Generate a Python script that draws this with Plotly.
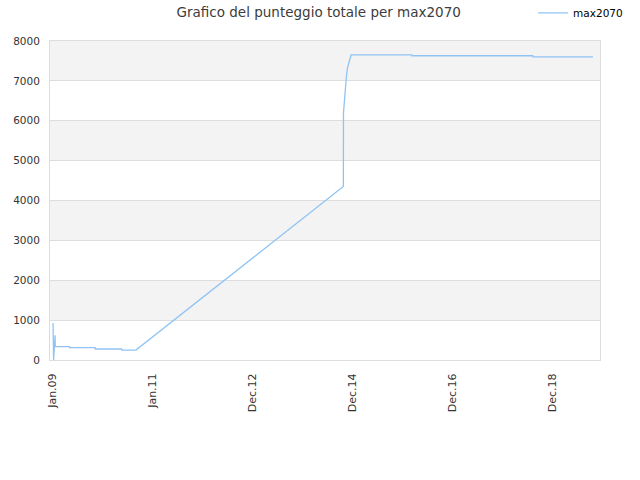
import plotly.graph_objects as go

dates = ["2009-01-17", "2009-01-21", "2009-02-01", "2009-02-02", "2009-05-15", "2009-05-16",
         "2009-11-18", "2009-11-19", "2010-05-30", "2010-05-31", "2010-09-10",
         "2014-10-23", "2014-10-24", "2014-10-30", "2014-11-06", "2014-11-14",
         "2014-11-21", "2014-12-03", "2014-12-18", "2016-03-02", "2016-03-03",
         "2018-07-28", "2018-07-29", "2019-10-07"]
scores = [930, 0, 620, 333, 333, 308,
          308, 276, 276, 250, 250,
          4350, 6200, 6520, 6940, 7105,
          7315, 7480, 7650, 7650, 7630,
          7630, 7600, 7600]

tick_dates = ["2009-01-10", "2011-01-05", "2012-12-30", "2014-12-25", "2016-12-19", "2018-12-14"]
tick_labels = ["Jan.09", "Jan.11", "Dec.12", "Dec.14", "Dec.16", "Dec.18"]
y_ticks = [0, 1000, 2000, 3000, 4000, 5000, 6000, 7000, 8000]

fig = go.Figure()
fig.add_trace(go.Scatter(x=dates, y=scores, mode="lines", name="max2070",
                         line=dict(color="#90c3f4", width=1.3)))

# grey bands between grid lines
for lo in range(1000, 8000, 2000):
    fig.add_shape(type="rect", xref="paper", yref="y", x0=0, x1=1, y0=lo, y1=lo + 1000,
                  fillcolor="#f3f3f3", line_width=0, layer="below")

fig.update_layout(
    width=640, height=480,
    margin=dict(l=50, r=40, t=41, b=120, autoexpand=False),
    paper_bgcolor="white", plot_bgcolor="white",
    font=dict(family="DejaVu Sans", size=10, color="#333333"),
    title=dict(text="Grafico del punteggio totale per max2070", x=0.498, xref="container",
               y=0.974, yref="container", yanchor="middle", font=dict(size=13.5, color="#3c3c3c")),
    showlegend=True,
    legend=dict(x=0.833, xref="container", xanchor="left", y=0.973, yref="container",
                yanchor="middle", bgcolor="rgba(0,0,0,0)", itemwidth=30,
                font=dict(size=10.5, color="#000000")),
    xaxis=dict(range=["2008-12-26", "2019-11-27"], tickvals=tick_dates, ticktext=tick_labels,
               tickangle=-90, showgrid=False, showline=True, mirror=True, linecolor="#dddddd",
               zeroline=False, ticks="", automargin=False, ticklabelstandoff=8,
               tickfont=dict(size=11)),
    yaxis=dict(range=[0, 8000], tickvals=y_ticks, showgrid=True, gridcolor="#dddddd",
               showline=True, mirror=True, linecolor="#dddddd", zeroline=False, ticks="",
               automargin=False, ticklabelstandoff=7, tickfont=dict(size=10.5)),
)

# drop the default 8px page margin so the figure sits at the window's corner
fig.write_html("out.html", config={"displayModeBar": False},
               post_script="document.body.style.margin='0px';")
